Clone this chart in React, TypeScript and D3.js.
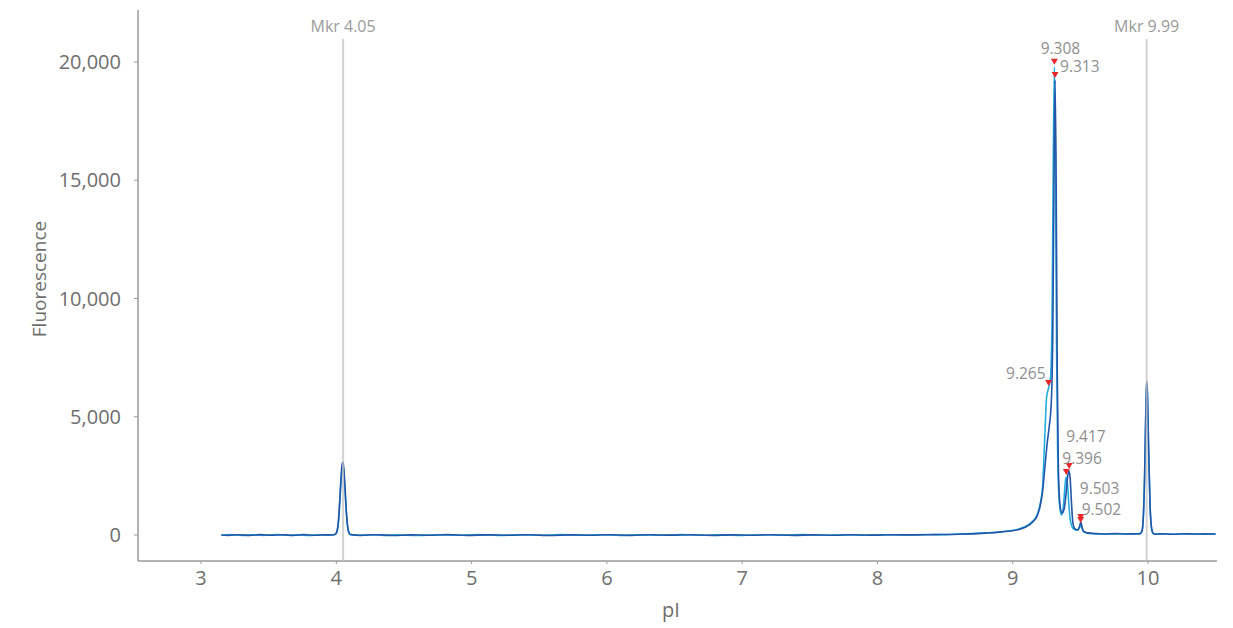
import React from 'react';
import * as d3 from 'd3';

// electropherogram traces, [pI, fluorescence]
const cyanTrace: [number, number][] = [
  [3.15, -10], [3.22, 15], [3.3, -20], [3.38, 10], [3.46, -15], [3.55, 20], [3.63, -10], [3.72, 5],
  [3.8, -20], [3.88, 10], [3.95, -5], [3.99, 20], [4.0, 60], [4.01, 270], [4.02, 850], [4.03, 1800],
  [4.04, 2650], [4.047, 2850], [4.055, 2650], [4.065, 1800], [4.075, 850], [4.085, 280], [4.095, 70],
  [4.105, 15], [4.15, -10], [4.25, 10], [4.35, -15], [4.45, 5], [4.6, -20], [4.75, 10], [4.9, -10],
  [5.05, 15], [5.2, -15], [5.35, 5], [5.5, -10], [5.65, 15], [5.8, -5], [5.95, 10], [6.1, -15],
  [6.25, 5], [6.4, -10], [6.55, 15], [6.7, -10], [6.85, 5], [7.0, -15], [7.15, 10], [7.3, -5],
  [7.45, 15], [7.6, -10], [7.75, 5], [7.9, -10], [8.05, 10], [8.2, 0], [8.35, 20], [8.5, 15],
  [8.6, 40], [8.7, 60], [8.8, 90], [8.9, 130], [8.98, 180], [9.05, 260], [9.1, 380], [9.15, 600],
  [9.18, 850], [9.2, 1250], [9.22, 2000], [9.236, 4000], [9.25, 5800], [9.265, 6215], [9.28, 6700],
  [9.292, 10000], [9.3, 16000], [9.308, 19800], [9.316, 15500], [9.324, 8000], [9.332, 3500],
  [9.34, 1800], [9.35, 1100], [9.36, 850], [9.37, 1000], [9.38, 1600], [9.39, 2300], [9.396, 2450],
  [9.404, 2200], [9.415, 1300], [9.425, 650], [9.44, 330], [9.46, 220], [9.48, 200], [9.492, 300],
  [9.502, 420], [9.512, 280], [9.525, 130], [9.55, 80], [9.62, 50], [9.7, 45], [9.78, 55], [9.86, 40],
  [9.93, 50], [9.955, 150], [9.965, 700], [9.975, 2450], [9.985, 5500], [9.99, 6400], [9.995, 6000],
  [10.005, 3500], [10.015, 1250], [10.025, 330], [10.035, 90], [10.05, 40], [10.12, 55], [10.2, 35],
  [10.28, 50], [10.36, 30], [10.44, 45], [10.5, 35],
];

const blueTrace: [number, number][] = [
  [3.15, 0], [3.2, -15], [3.28, 10], [3.36, -20], [3.44, 15], [3.52, -10], [3.6, 10], [3.68, -20],
  [3.76, 15], [3.84, -10], [3.92, 5], [3.98, 10], [3.99, 30], [4.0, 90], [4.01, 310], [4.02, 930],
  [4.03, 1950], [4.04, 2850], [4.047, 3080], [4.055, 2850], [4.065, 1950], [4.075, 930], [4.085, 310],
  [4.095, 80], [4.105, 20], [4.18, -15], [4.3, 10], [4.42, -20], [4.55, 5], [4.68, -10], [4.82, 15],
  [4.97, -15], [5.12, 5], [5.27, -10], [5.42, 10], [5.58, -20], [5.72, 5], [5.88, -10], [6.02, 10],
  [6.18, -15], [6.32, 10], [6.48, -5], [6.62, 10], [6.78, -15], [6.92, 5], [7.08, -10], [7.22, 10],
  [7.38, -15], [7.52, 5], [7.68, -10], [7.82, 10], [7.98, -5], [8.12, 10], [8.28, 5], [8.42, 15],
  [8.6, 30], [8.7, 50], [8.8, 80], [8.9, 120], [8.98, 170], [9.05, 240], [9.1, 350], [9.15, 560],
  [9.18, 800], [9.2, 1150], [9.22, 1800], [9.24, 3000], [9.255, 3900], [9.27, 4600], [9.285, 5600],
  [9.297, 9000], [9.305, 15000], [9.313, 19240], [9.321, 15000], [9.329, 7000], [9.337, 3000],
  [9.345, 1600], [9.355, 1050], [9.365, 930], [9.38, 1100], [9.395, 1800], [9.408, 2550], [9.417, 2706],
  [9.425, 2350], [9.435, 1300], [9.445, 500], [9.46, 260], [9.48, 220], [9.492, 330], [9.503, 550],
  [9.513, 320], [9.525, 150], [9.55, 90], [9.62, 60], [9.68, 40], [9.76, 60], [9.84, 45], [9.92, 55],
  [9.94, 40], [9.955, 160], [9.965, 720], [9.975, 2550], [9.985, 5650], [9.99, 6510], [9.995, 6100],
  [10.005, 3600], [10.015, 1300], [10.025, 350], [10.035, 100], [10.05, 30], [10.1, 50], [10.18, 35],
  [10.26, 55], [10.34, 40], [10.42, 50], [10.5, 40],
];

const markerPI = [4.05, 9.99];
const markerLabels = ['Mkr 4.05', 'Mkr 9.99'];

const peakLabels = ['9.308', '9.313', '9.265', '9.417', '9.396', '9.503', '9.502'];
const peakPI = [9.308, 9.313, 9.265, 9.417, 9.396, 9.503, 9.502];
const peakHeights = [19800, 19240, 6215, 2706, 2450, 550, 420];

const xTicks = [3, 4, 5, 6, 7, 8, 9, 10];
const yTicks = [0, 5000, 10000, 15000, 20000];

// label placement relative to triangle tip
const labelLayout = [
  { anchor: 'middle', dx: 6, dy: -11 },
  { anchor: 'start', dx: 5, dy: -6 },
  { anchor: 'end', dx: -3, dy: -7 },
  { anchor: 'start', dx: -3, dy: -27 },
  { anchor: 'start', dx: -4, dy: -11 },
  { anchor: 'start', dx: -1, dy: -26 },
  { anchor: 'start', dx: 1, dy: -8 },
];

const W = 1233;
const H = 628;
const left = 138;
const right = 1217;
const top = 10;
const bottom = 561;
const font = "'Open Sans', 'Noto Sans', sans-serif";

export default function App() {
  const x = d3.scaleLinear().domain([2.534, 10.51]).range([left, right]);
  const y = d3.scaleLinear().domain([-1099, 22199]).range([bottom, top]);

  const line = d3.line<[number, number]>()
    .x(d => x(d[0]))
    .y(d => y(d[1]))
    .curve(d3.curveMonotoneX);

  const fmt = d3.format(',');

  return (
    <svg width={W} height={H} style={{ position: 'absolute', left: 0, top: 0 }} fontFamily={font}>
      <rect width={W} height={H} fill="#fff" />

      {/* axes */}
      <line x1={left} x2={left} y1={top} y2={bottom} stroke="#9a9a9a" strokeWidth={1.5} />
      <line x1={left} x2={right} y1={bottom} y2={bottom} stroke="#9a9a9a" strokeWidth={1.5} />
      {yTicks.map(t => (
        <g key={'y' + t}>
          <line x1={left - 4} x2={left} y1={y(t)} y2={y(t)} stroke="#9a9a9a" />
          <text x={left - 17} y={y(t)} dy="0.35em" textAnchor="end" fontSize={20} fill="#6e6e6e">
            {fmt(t)}
          </text>
        </g>
      ))}
      {xTicks.map(t => (
        <g key={'x' + t}>
          <line x1={x(t)} x2={x(t)} y1={bottom} y2={bottom + 3} stroke="#9a9a9a" />
          <text x={x(t)} y={585} textAnchor="middle" fontSize={20} fill="#6e6e6e">{t}</text>
        </g>
      ))}
      <text x={671} y={617} textAnchor="middle" fontSize={20} fill="#6e6e6e">pI</text>
      <text transform="translate(46,279) rotate(-90)" textAnchor="middle" fontSize={19} fill="#6e6e6e">
        Fluorescence
      </text>

      {/* traces */}
      <path d={line(cyanTrace) ?? ''} fill="none" stroke="#25ade0" strokeWidth={1.6} />
      <path d={line(blueTrace) ?? ''} fill="none" stroke="#2356a8" strokeWidth={1.6} />

      {/* markers */}
      {markerPI.map((m, i) => (
        <g key={'m' + i}>
          <line x1={x(m)} x2={x(m)} y1={39} y2={bottom} stroke="#c4c4c4" strokeWidth={2} opacity={0.75} />
          <text x={x(m)} y={32} textAnchor="middle" fontSize={16} fill="#9b9b9b">{markerLabels[i]}</text>
        </g>
      ))}

      {/* peak calls */}
      {peakPI.map((p, i) => {
        const px = x(p);
        const tip = y(peakHeights[i]) - 2;
        const lay = labelLayout[i];
        return (
          <g key={'p' + i}>
            <path d={`M${px - 3.5},${tip - 6}L${px + 3.5},${tip - 6}L${px},${tip}Z`} fill="#e8262b" />
            <text x={px + lay.dx} y={tip + lay.dy} textAnchor={lay.anchor as any} fontSize={15.5} fill="#8f8f8f">
              {peakLabels[i]}
            </text>
          </g>
        );
      })}
    </svg>
  );
}
